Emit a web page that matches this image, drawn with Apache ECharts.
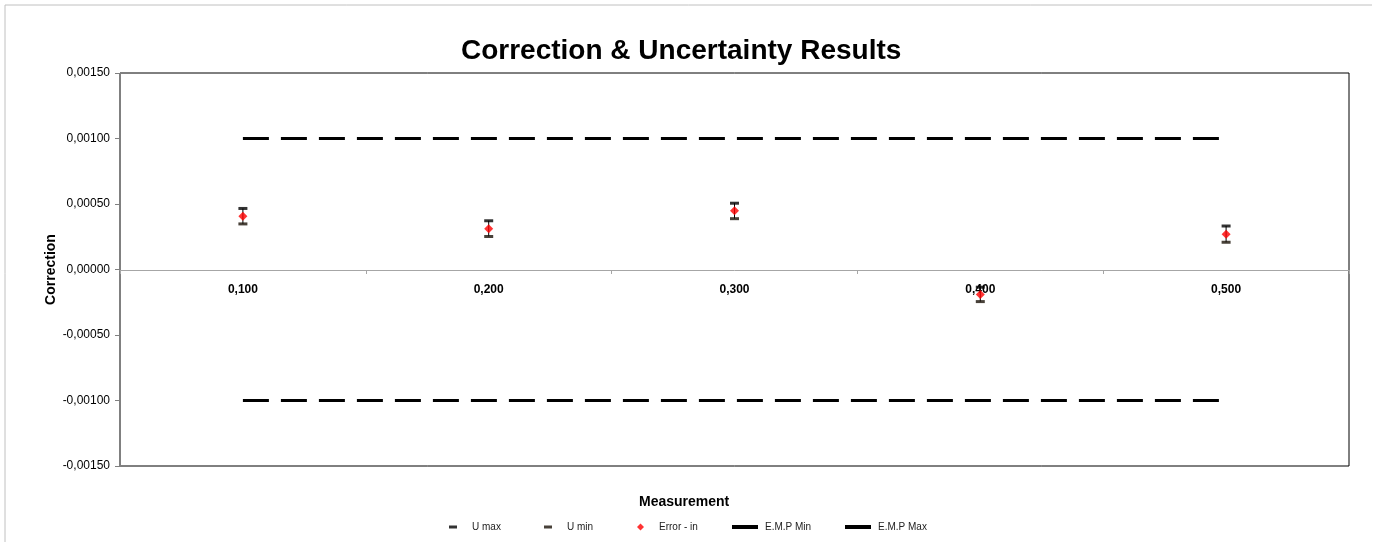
<!DOCTYPE html>
<html>
<head>
<meta charset="utf-8">
<script src="https://cdn.jsdelivr.net/npm/echarts@6/dist/echarts.min.js"></script>
<style>
  html, body { margin: 0; padding: 0; background: #fff; }
  #main { width: 1381px; height: 542px; }
</style>
</head>
<body>
<div id="main"></div>
<script>
// values
const categories = ['0,100', '0,200', '0,300', '0,400', '0,500'];
const errorIn = [0.000407, 0.000311, 0.000448, -0.000190, 0.000270];
const uMax = [0.000466, 0.000372, 0.000506, -0.000135, 0.000332];
const uMin = [0.000348, 0.000252, 0.000388, -0.000245, 0.000208];
const empMin = [-0.001, -0.001, -0.001, -0.001, -0.001];
const empMax = [0.001, 0.001, 0.001, 0.001, 0.001];
const yTicks = { min: -0.0015, max: 0.0015, interval: 0.0005 };

const font = 'Liberation Sans, Arial, sans-serif';

const chart = echarts.init(document.getElementById('main'));

const stems = categories.map((c, i) => [i, uMin[i], uMax[i]]);

function legendItem(name, left, icon, w, h, pad) {
  return {
    data: [{ name: name, icon: icon }],
    left: left,
    top: 522,
    padding: 0,
    itemWidth: w,
    itemHeight: h,
    selectedMode: false,
    textStyle: { fontFamily: font, fontSize: 10, color: '#222', padding: [0, 0, 0, pad] }
  };
}

const option = {
  animation: false,
  backgroundColor: '#fff',
  title: [
    {
      text: 'Correction & Uncertainty Results',
      left: 456,
      top: 32,
      textStyle: { fontFamily: font, fontSize: 28, fontWeight: 'bold', color: '#000' }
    },
    {
      text: 'Measurement',
      left: 634,
      top: 490,
      textStyle: { fontFamily: font, fontSize: 14, fontWeight: 'bold', color: '#000' }
    }
  ],
  legend: [
    legendItem('U max', 449, 'rect', 8, 3, 10),
    legendItem('U min', 544, 'rect', 8, 3, 10),
    legendItem('Error - in', 637, 'diamond', 7, 7, 10),
    legendItem('E.M.P Min', 732, 'rect', 26, 4, 2),
    legendItem('E.M.P Max', 845, 'rect', 26, 4, 2)
  ],
  graphic: [
    { type: 'line', shape: { x1: 5, y1: 5, x2: 1372, y2: 5 }, style: { stroke: '#c0c0c0', lineWidth: 1 } },
    { type: 'line', shape: { x1: 5, y1: 5, x2: 5, y2: 542 }, style: { stroke: '#c0c0c0', lineWidth: 1 } }
  ],
  grid: {
    left: 120,
    right: 32,
    top: 73,
    bottom: 76,
    show: true,
    borderColor: '#000',
    borderWidth: 1
  },
  xAxis: {
    type: 'category',
    data: categories,
    position: 'bottom',
    offset: -196,
    axisLine: { onZero: false, lineStyle: { color: '#a6a6a6', width: 1 } },
    axisTick: { show: true, length: 4, lineStyle: { color: '#a6a6a6' } },
    axisLabel: { fontFamily: font, fontSize: 12, fontWeight: 'bold', color: '#000', margin: 14 },
    splitLine: { show: false }
  },
  yAxis: {
    type: 'value',
    min: yTicks.min,
    max: yTicks.max,
    interval: yTicks.interval,
    name: 'Correction',
    nameLocation: 'middle',
    nameGap: 62,
    nameMoveOverlap: false,
    nameTextStyle: { fontFamily: font, fontSize: 14, fontWeight: 'bold', color: '#000' },
    axisLine: { show: true, lineStyle: { color: '#808080', width: 1 } },
    axisTick: { show: true, length: 5, lineStyle: { color: '#808080' } },
    axisLabel: {
      fontFamily: font, fontSize: 12, color: '#000', margin: 10,
      formatter: function (v) { return v.toFixed(5).replace('.', ','); }
    },
    splitLine: { show: false }
  },
  series: [
    {
      name: 'stem',
      type: 'custom',
      data: stems,
      encode: { x: 0, y: [1, 2] },
      z: 3,
      renderItem: function (params, api) {
        const lo = api.coord([api.value(0), api.value(1)]);
        const hi = api.coord([api.value(0), api.value(2)]);
        return {
          type: 'line',
          shape: { x1: lo[0], y1: lo[1], x2: hi[0], y2: hi[1] },
          style: { stroke: '#000', lineWidth: 1 }
        };
      }
    },
    {
      name: 'U max',
      type: 'scatter',
      data: uMax,
      symbol: 'rect',
      symbolSize: [9, 3],
      itemStyle: { color: '#000' },
      z: 4
    },
    {
      name: 'U min',
      type: 'scatter',
      data: uMin,
      symbol: 'rect',
      symbolSize: [9, 3],
      itemStyle: { color: '#1a1208' },
      z: 4
    },
    {
      name: 'Error - in',
      type: 'scatter',
      data: errorIn,
      symbol: 'diamond',
      symbolSize: 9,
      itemStyle: { color: '#ff0000' },
      z: 5
    },
    {
      name: 'E.M.P Min',
      type: 'line',
      data: empMin,
      symbol: 'none',
      lineStyle: { color: '#000', width: 3, type: [26, 12] },
      itemStyle: { color: '#000' }
    },
    {
      name: 'E.M.P Max',
      type: 'line',
      data: empMax,
      symbol: 'none',
      lineStyle: { color: '#000', width: 3, type: [26, 12] },
      itemStyle: { color: '#000' }
    }
  ]
};

chart.setOption(option);
</script>
</body>
</html>
